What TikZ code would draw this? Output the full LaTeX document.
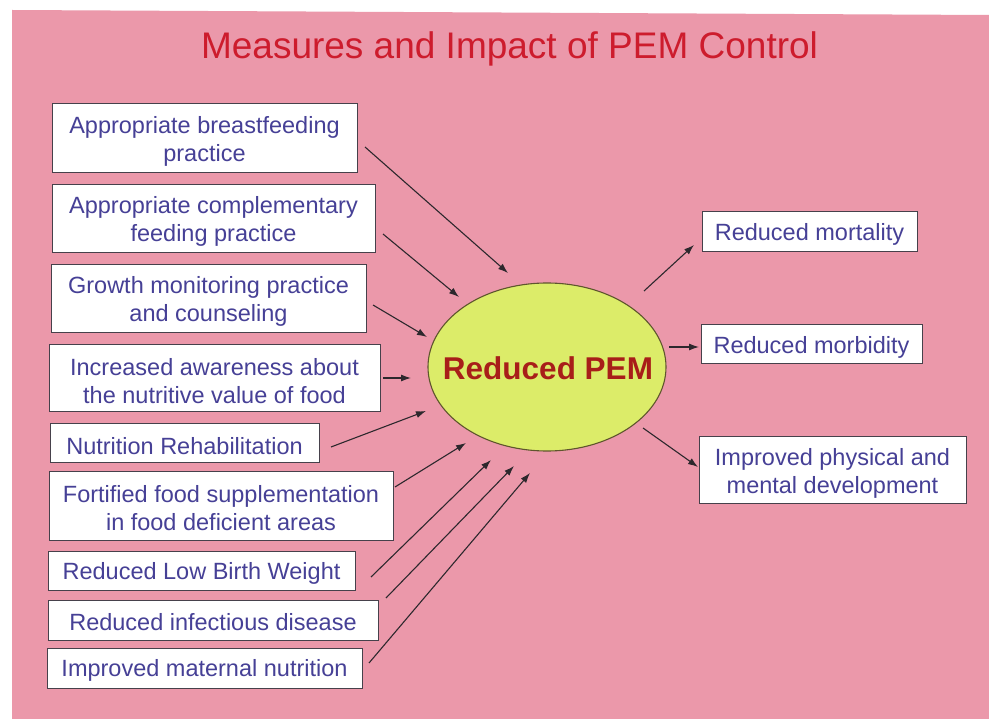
\documentclass[tikz,border=0pt]{standalone}
\usepackage{fontspec}
\setmainfont{Liberation Sans}
\usetikzlibrary{arrows.meta,shapes.geometric}
\definecolor{bgpink}{RGB}{235,152,170}
\definecolor{boxtext}{RGB}{70,64,150}
\definecolor{boxline}{RGB}{70,65,75}
\definecolor{titlered}{RGB}{205,28,45}
\definecolor{pemfill}{RGB}{220,236,105}
\definecolor{pemline}{RGB}{95,85,45}
\definecolor{pemtext}{RGB}{168,30,25}
\definecolor{arrowcol}{RGB}{45,40,45}
\tikzset{
  infobox/.style={draw=boxline, line width=1pt, fill=white, inner sep=0pt},
  infotext/.style={text=boxtext, font=\fontsize{23.5}{28}\selectfont, align=center, inner sep=0pt},
  arr/.style={draw=arrowcol, line width=1.1pt, -{Latex[length=10pt,width=7pt]}},
  titletext/.style={text=titlered, font=\fontsize{37}{42}\selectfont, inner sep=0pt, anchor=base},
}
\newcommand\placebox[6]{%
  \node[infobox, minimum width={(#4-#2)*1pt}, minimum height={(#5-#3)*1pt}]
    (#1) at ({(#2+#4)/2},{(#3+#5)/2}) {};
  \node[infotext] (#1t) at ({(#2+#4)/2},{(#3+#5)/2+2.5}) {#6};}
\begin{document}
\begin{tikzpicture}[x=1pt,y=-1pt]
\useasboundingbox (0,0) rectangle (989,719);
\fill[white] (0,0) rectangle (989,719);
\fill[bgpink] (12,10) -- (989,15) -- (989,719) -- (12,719) -- cycle;

\node[titletext] (title) at (509.5,59) {Measures and Impact of PEM Control};

% left boxes
\placebox{b1}{52}{104}{357}{173}{Appropriate breastfeeding\\practice}
\placebox{b2}{52}{185}{375}{253}{Appropriate complementary\\feeding practice}
\placebox{b3}{51}{265}{366}{333}{Growth monitoring practice\\and counseling}
\placebox{b4}{49}{345}{380}{412}{Increased awareness about\\the nutritive value of food}
\placebox{b5}{50}{424}{319}{463}{Nutrition Rehabilitation}
\placebox{b6}{49}{472}{393}{540}{Fortified food supplementation\\in food deficient areas}
\placebox{b7}{48}{551}{355}{590}{Reduced Low Birth Weight}
\placebox{b8}{48}{600}{378}{640}{Reduced infectious disease}
\placebox{b9}{47}{648}{362}{688}{Improved maternal nutrition}

% right boxes
\placebox{r1}{702}{212}{917}{252}{Reduced mortality}
\placebox{r2}{701}{325}{922}{364}{Reduced morbidity}
\placebox{r3}{699}{437}{966}{504}{Improved physical and\\mental development}

% central ellipse
\node[ellipse, draw=pemline, line width=1.1pt, fill=pemfill,
      minimum width=238pt, minimum height=168pt, inner sep=0pt] (pem) at (547,367) {};
\node[text=pemtext, font=\fontsize{31.5}{36}\selectfont\bfseries, inner sep=0pt]
      (pemlabel) at (548,368) {Reduced PEM};

% arrow end points
\coordinate (s1) at (365,147);  \coordinate (e1) at (508,273);
\coordinate (s2) at (383,234);  \coordinate (e2) at (459,297);
\coordinate (s3) at (373,305);  \coordinate (e3) at (427,337);
\coordinate (s4) at (383,378);  \coordinate (e4) at (411,378);
\coordinate (s5) at (331,447);  \coordinate (e5) at (426,411);
\coordinate (s6) at (395,487);  \coordinate (e6) at (466,443);
\coordinate (s7) at (371,577);  \coordinate (e7) at (491,460);
\coordinate (s8) at (386,598);  \coordinate (e8) at (514,466);
\coordinate (s9) at (369,663);  \coordinate (e9) at (530,473);
\coordinate (t1) at (644,291);  \coordinate (f1) at (694,245);
\coordinate (t2) at (669,347);  \coordinate (f2) at (699,347);
\coordinate (t3) at (643,428);  \coordinate (f3) at (698,467);

\foreach \i in {1,...,9} {\draw[arr] (s\i) -- (e\i);}
\foreach \i in {1,2,3} {\draw[arr] (t\i) -- (f\i);}
\end{tikzpicture}
\end{document}
